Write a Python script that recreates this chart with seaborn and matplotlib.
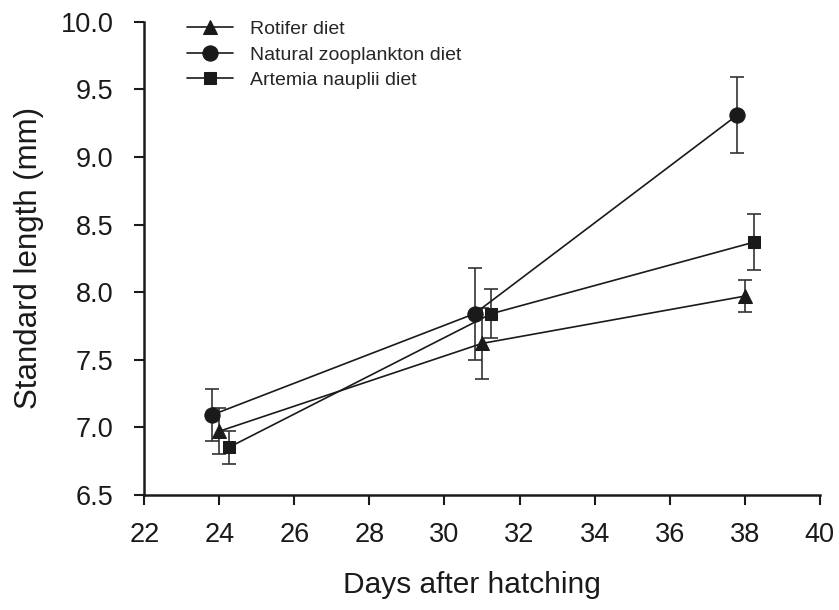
import pandas as pd
import seaborn as sns
import matplotlib.pyplot as plt

# values (mean +/- SE)
days_rot = [24.0, 31.0, 38.0]
len_rot = [6.97, 7.62, 7.97]
se_rot = [0.17, 0.26, 0.12]

days_nat = [23.8, 30.8, 37.8]
len_nat = [7.09, 7.84, 9.31]
se_nat = [0.19, 0.34, 0.28]

days_art = [24.25, 31.25, 38.25]
len_art = [6.85, 7.84, 8.37]
se_art = [0.12, 0.18, 0.21]

labels = ['Rotifer diet', 'Natural zooplankton diet', 'Artemia nauplii diet']
x_ticks = [22, 24, 26, 28, 30, 32, 34, 36, 38, 40]
y_ticks = [6.5, 7.0, 7.5, 8.0, 8.5, 9.0, 9.5, 10.0]


def plot_growth():
    sns.set_style('ticks')
    plt.rcParams['font.family'] = ['Liberation Sans', 'DejaVu Sans']

    fig = plt.figure(figsize=(8.39, 6.10), dpi=100)
    ax = fig.add_axes([0.172, 0.189, 0.805, 0.775])

    series = [
        (days_rot, len_rot, se_rot, '^', 10.5),
        (days_nat, len_nat, se_nat, 'o', 11),
        (days_art, len_art, se_art, 's', 9),
    ]
    for (d, v, se, m, ms), lab in zip(series, labels):
        ax.errorbar(d, v, yerr=se, fmt='none', ecolor='#333333',
                    elinewidth=1.2, capsize=5, capthick=1.2, zorder=1)
        df = pd.DataFrame({'day': d, 'length': v})
        sns.lineplot(data=df, x='day', y='length', ax=ax, color='#1a1a1a',
                     marker=m, markersize=ms, markeredgecolor='#1a1a1a',
                     linewidth=1.2, label=lab, zorder=2)

    ax.set_xlim(22, 40)
    ax.set_ylim(6.5, 10.0)
    ax.set_xticks(x_ticks)
    ax.set_yticks(y_ticks)
    ax.set_yticklabels([f'{t:.1f}' for t in y_ticks])
    ax.tick_params(axis='both', labelsize=19.5, direction='out', length=7,
                   width=1.5, colors='#1a1a1a')
    ax.tick_params(axis='x', pad=13)
    ax.tick_params(axis='y', pad=15)
    for s in ['left', 'bottom']:
        ax.spines[s].set_linewidth(1.8)
        ax.spines[s].set_color('#1a1a1a')
    sns.despine(ax=ax)

    ax.set_xlabel('Days after hatching', fontsize=21.5, labelpad=16, color='#1a1a1a')
    ax.xaxis.label.set_x(0.485)
    ax.set_ylabel('Standard length (mm)', fontsize=22.5, labelpad=12, color='#1a1a1a')

    ax.legend(loc='upper left', bbox_to_anchor=(0.037, 1.04), frameon=False,
              fontsize=14, handlelength=2.4, handletextpad=0.85,
              labelspacing=0.4)

    plt.savefig('out.png', dpi=100)


if __name__ == "__main__":
    plot_growth()
